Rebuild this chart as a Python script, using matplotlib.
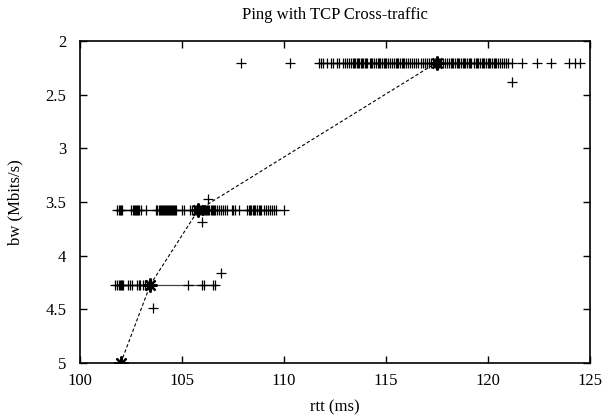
import matplotlib
matplotlib.use("Agg")
import matplotlib.pyplot as plt

plt.rcParams['font.family'] = ['Liberation Serif', 'DejaVu Serif']
plt.rcParams['font.size'] = 12

# rtt samples per bandwidth level (ms)
rtt_low = [101.7, 101.8, 101.9, 101.95, 102.0, 102.05, 102.1, 102.35, 102.45,
           102.55, 102.8, 102.9, 102.95, 103.1, 103.2, 103.3, 103.4, 103.5,
           105.3, 106.0, 106.1, 106.5, 106.6]
bw_low = 4.27

rtt_mid = [101.8, 101.9, 101.95, 102.0, 102.05, 102.5, 102.6, 102.65, 102.7,
           102.75, 102.8, 102.85, 102.9, 103.0, 103.25, 103.75, 103.8, 103.85,
           103.9, 103.95, 104.0, 104.05, 104.1, 104.15, 104.2, 104.25, 104.3,
           104.35, 104.4, 104.45, 104.5, 104.55, 104.6, 104.65, 104.7, 105.0,
           105.1, 105.4, 105.5, 105.6, 105.7, 105.8, 105.9, 106.0, 106.05,
           106.1, 106.15, 106.2, 106.25, 106.3, 106.35, 106.4, 106.45, 106.5,
           106.55, 106.6, 106.7, 106.8, 106.9, 107.0, 107.1, 107.2, 107.45,
           107.5, 107.6, 107.8, 108.2, 108.3, 108.35, 108.4, 108.5, 108.55,
           108.6, 108.7, 108.8, 108.85, 108.9, 109.0, 109.1, 109.2, 109.3,
           109.4, 109.5, 109.6, 110.0]
bw_mid = 3.575

rtt_top = [111.7, 111.8, 111.9, 112.1, 112.3, 112.4, 112.6, 112.7, 112.9,
           113.0, 113.1, 113.2, 113.3, 113.4, 113.45, 113.5, 113.6, 113.65,
           113.7, 113.8, 113.85, 113.9, 114.0, 114.05, 114.1, 114.2, 114.25,
           114.3, 114.4, 114.5, 114.6, 114.65, 114.7, 114.8, 114.9, 114.95,
           115.0, 115.1, 115.2, 115.3, 115.4, 115.5, 115.55, 115.6, 115.7,
           115.8, 115.85, 115.9, 116.0, 116.1, 116.2, 116.3, 116.4, 116.5,
           116.6, 116.7, 116.8, 116.9, 117.0, 117.1, 117.2, 117.3, 117.4,
           117.5, 117.6, 117.7, 117.8, 117.9, 118.0, 118.1, 118.2, 118.25,
           118.3, 118.4, 118.5, 118.55, 118.6, 118.7, 118.8, 118.85, 118.9,
           119.0, 119.1, 119.15, 119.2, 119.3, 119.4, 119.45, 119.5, 119.6,
           119.7, 119.75, 119.8, 119.9, 120.0, 120.05, 120.1, 120.2, 120.3,
           120.35, 120.4, 120.5, 120.6, 120.7, 120.8, 120.9, 121.0, 121.2]
bw_top = 2.2

# isolated samples
rtt_out = [107.9, 110.3, 121.7, 122.4, 123.1, 124.0, 124.3, 124.5,
           121.2, 106.3, 106.0, 106.9, 103.6]
bw_out = [2.2, 2.2, 2.2, 2.2, 2.2, 2.2, 2.2, 2.2,
          2.38, 3.47, 3.69, 4.16, 4.49]

# averages per level
rtt_avg = [102.0, 103.45, 105.8, 117.5]
bw_avg = [5.0, 4.27, 3.575, 2.2]

fig, ax = plt.subplots(figsize=(6.03, 4.19), dpi=100)
fig.subplots_adjust(left=0.1327, right=0.978, top=0.902, bottom=0.1337)

for xs, y in [(rtt_low, bw_low), (rtt_mid, bw_mid), (rtt_top, bw_top)]:
    ax.plot(xs, [y] * len(xs), color='#444444', lw=0.9, zorder=2)
    ax.plot(xs, [y] * len(xs), ls='none', marker='+', ms=6.5, mew=0.9,
            color='black', zorder=3)

ax.plot(rtt_out, bw_out, ls='none', marker='+', ms=6.5, mew=0.9, color='black')

ax.plot(rtt_avg, bw_avg, ls=(0, (3, 2)), lw=0.8, color='black',
        marker=(8, 2, 0), ms=10, mew=1.6, zorder=4)

ax.set_xlim(100, 125)
ax.set_ylim(5, 2)
ax.set_xticks([100, 105, 110, 115, 120, 125])
ax.set_yticks([2, 2.5, 3, 3.5, 4, 4.5, 5])
ax.set_yticklabels(['2', '2.5', '3', '3.5', '4', '4.5', '5'])
ax.tick_params(direction='in', length=5, width=1, top=True, right=True,
               labelsize=12)
ax.tick_params(axis='y', pad=10)
ax.tick_params(axis='x', pad=7)
for s in ax.spines.values():
    s.set_linewidth(1.2)

ax.set_title('Ping with TCP Cross-traffic', fontsize=12, pad=16)
ax.set_xlabel('rtt (ms)', fontsize=12, labelpad=8)
ax.set_ylabel('bw (Mbits/s)', fontsize=12, labelpad=16)

fig.savefig('out.png', dpi=100)
